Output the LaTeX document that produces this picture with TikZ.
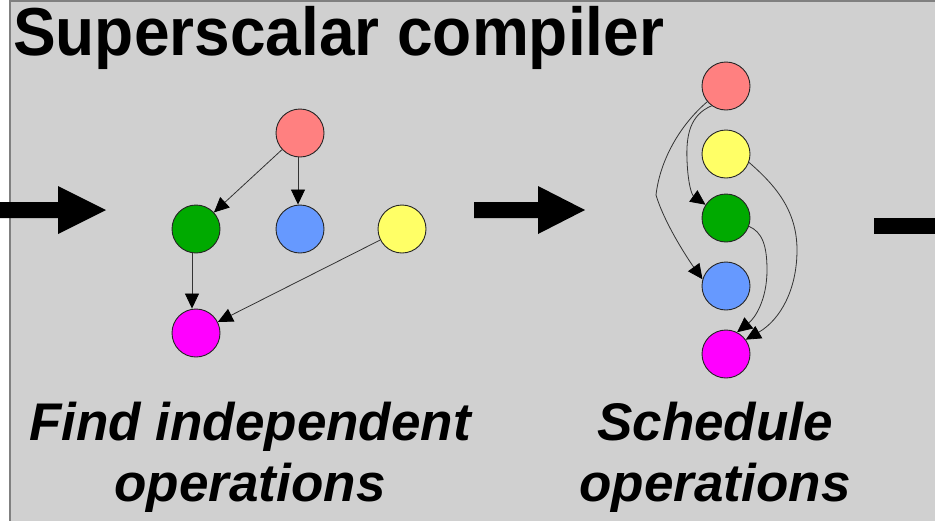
\documentclass[tikz,border=0pt]{standalone}
\usepackage{fontspec}
\setmainfont{Liberation Sans}
\usetikzlibrary{arrows.meta}
\definecolor{panel}{RGB}{208,208,208}
\definecolor{panelrule}{RGB}{128,128,128}
\definecolor{opred}{RGB}{255,128,128}
\definecolor{opyellow}{RGB}{255,255,102}
\definecolor{opgreen}{RGB}{0,170,0}
\definecolor{opblue}{RGB}{102,153,255}
\definecolor{opmagenta}{RGB}{255,0,255}
\definecolor{edgegray}{RGB}{51,51,51}

\begin{document}
\begin{tikzpicture}[x=1pt,y=-1pt,
  op/.style={circle,draw=black!85,line width=0.9pt,minimum size=48pt,inner sep=0pt},
  dep/.style={draw=edgegray,line width=0.8pt,-{Triangle[length=15pt,width=14pt,color=black]}},
  bigarrow/.style={fill=black,draw=none},
  caption/.style={font=\fontsize{53}{61}\selectfont\bfseries\itshape,anchor=base,inner sep=0pt},
  heading/.style={font=\fontsize{64}{70}\selectfont\bfseries,anchor=base west,inner sep=0pt,yscale=1.06}]

  \useasboundingbox (0,0) rectangle (935,520);
  \fill[white] (0,0) rectangle (935,520);

  % panel background, running off the right and bottom edges
  \begin{scope}
    \clip (0,0) rectangle (935,520);
    \draw[fill=panel,draw=panelrule,line width=1.5pt] (10,1) rectangle (950,540);
    % pipeline arrows
    \fill[bigarrow] (-5,202) -- (58,202) -- (58,186) -- (106,210) -- (58,234) -- (58,218) -- (-5,218) -- cycle;
    \fill[bigarrow] (474,202) -- (538,202) -- (538,186) -- (585,210) -- (538,234) -- (538,218) -- (474,218) -- cycle;
    \fill[bigarrow] (874,218) rectangle (940,234);
  \end{scope}

  \node[heading] (title) at (13,55) {Superscalar compiler};

  % dependence graph
  \node[op,fill=opred]     (lr) at (300,133) {};
  \node[op,fill=opgreen]   (lg) at (196,229) {};
  \node[op,fill=opblue]    (lb) at (300,229) {};
  \node[op,fill=opyellow]  (ly) at (402,229) {};
  \node[op,fill=opmagenta] (lm) at (196,333) {};

  \draw[dep] (lr) -- (lg);
  \draw[dep] ([xshift=-2pt]lr.south) -- ([xshift=-2pt]lb.north);
  \draw[dep] ([xshift=-4pt]lg.south) -- ([xshift=-4pt]lm.north);
  \draw[dep] (ly) -- (lm);

  % scheduled order
  \node[op,fill=opred]     (sr) at (726,86) {};
  \node[op,fill=opyellow]  (sy) at (726,154) {};
  \node[op,fill=opgreen]   (sg) at (726,218) {};
  \node[op,fill=opblue]    (sb) at (726,286) {};
  \node[op,fill=opmagenta] (sm) at (726,354) {};

  \draw[dep] (sr.220) .. controls (680,125) and (660,160) .. (656,195)
                      .. controls (665,225) and (690,262) .. (sb.164);
  \draw[dep] (sr.234) .. controls (690,115) and (686,135) .. (687,160)
                      .. controls (688,185) and (692,195) .. (sg.147);
  \draw[dep] (sy.340) .. controls (775,185) and (797,210) .. (797,250)
                      .. controls (797,290) and (780,320) .. (sm.36);
  \draw[dep] (sg.340) .. controls (762,232) and (767,245) .. (767,270)
                      .. controls (767,300) and (755,318) .. (sm.63);

  % captions
  \node[caption] (cap1a) at (250,440) {Find independent};
  \node[caption] (cap1b) at (250,501) {operations};
  \node[caption] (cap2a) at (715,440) {Schedule};
  \node[caption] (cap2b) at (715,501) {operations};
\end{tikzpicture}
\end{document}
